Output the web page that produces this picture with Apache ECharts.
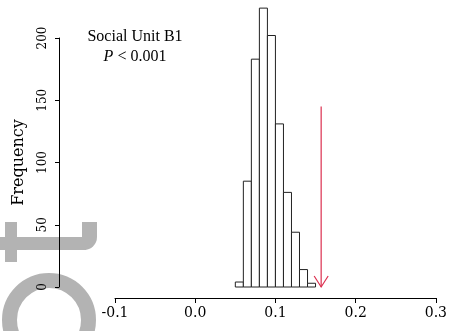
<!DOCTYPE html>
<html>
<head>
<meta charset="utf-8">
<script src="https://cdn.jsdelivr.net/npm/echarts@6/dist/echarts.min.js"></script>
<style>
html,body{margin:0;padding:0;background:#fff;}
#chart{width:450px;height:331px;}
</style>
</head>
<body>
<div id="chart"></div>
<script>
// Histogram bins (left edges, width 0.01) and frequencies
const binLeft = [0.05, 0.06, 0.07, 0.08, 0.09, 0.10, 0.11, 0.12, 0.13, 0.14];
const binWidth = 0.01;
const frequencies = [4, 85, 183, 224, 202, 131, 76, 44, 14, 3];
// Observed value arrow
const observedX = 0.157;
const arrowTopY = 145;
// Axis ticks
const xTicks = [-0.1, 0.0, 0.1, 0.2, 0.3];
const yTicks = [0, 50, 100, 150, 200];
const titleLine1 = 'Social Unit B1';
const titleLine2 = '{i|P} < 0.001';

const serif = 'Liberation Serif';
const wideSerif = 'DejaVu Serif';
const grey = '#b3b3b3';
const chart = echarts.init(document.getElementById('chart'), null, {renderer: 'canvas'});

const barData = binLeft.map((l, i) => [l, l + binWidth, frequencies[i]]);

chart.setOption({
  animation: false,
  backgroundColor: '#fff',
  grid: {left: 115, right: 12, top: 38, bottom: 44},
  xAxis: {
    type: 'value', min: xTicks[0], max: xTicks[xTicks.length - 1], interval: 0.1,
    offset: 11,
    axisLine: {show: true, onZero: false, lineStyle: {color: '#000', width: 1}},
    axisTick: {show: true, length: 5, lineStyle: {color: '#000'}},
    axisLabel: {color: '#000', fontFamily: wideSerif, fontSize: 14, margin: 8,
      formatter: v => v.toFixed(1)},
    splitLine: {show: false}
  },
  yAxis: {
    type: 'value', min: yTicks[0], max: yTicks[yTicks.length - 1], interval: 50,
    offset: 56,
    name: 'Frequency', nameLocation: 'middle', nameGap: 32, nameRotate: 90,
    nameTextStyle: {color: '#000', fontFamily: wideSerif, fontSize: 16},
    axisLine: {show: true, onZero: false, lineStyle: {color: '#000', width: 1}},
    axisTick: {show: true, length: 4, lineStyle: {color: '#000'}},
    axisLabel: {color: '#000', fontFamily: wideSerif, fontSize: 12, rotate: 90, margin: 10},
    splitLine: {show: false}
  },
  graphic: [
    // faint watermark shapes at bottom-left
    {type: 'group', z: -10, children: [
      {type: 'circle', shape: {cx: 49, cy: 320, r: 39.5}, style: {fill: 'none', stroke: grey, lineWidth: 15}},
      {type: 'rect', shape: {x: 0, y: 237, width: 86, height: 13}, style: {fill: grey}},
      {type: 'rect', shape: {x: 5, y: 222, width: 12, height: 40}, style: {fill: grey}},
      {type: 'rect', shape: {x: 70, y: 222, width: 27, height: 28, r: [0, 0, 13, 0]}, style: {fill: grey}},
      {type: 'rect', shape: {x: 70, y: 222, width: 12, height: 15}, style: {fill: '#fff'}}
    ]},
    {type: 'text', z: 10, x: 135, y: 37, style: {text: titleLine1, fill: '#000', font: '16px "' + serif + '"', align: 'center', verticalAlign: 'middle'}},
    {type: 'text', z: 10, x: 135, y: 57, style: {text: titleLine2, fill: '#000', fontFamily: serif, fontSize: 16, align: 'center', verticalAlign: 'middle',
      rich: {i: {fontFamily: serif, fontSize: 16, fontStyle: 'italic', fill: '#000'}}}}
  ],
  series: [
    {
      type: 'custom',
      data: barData,
      clip: false,
      renderItem: function (params, api) {
        const p0 = api.coord([api.value(0), 0]);
        const p1 = api.coord([api.value(1), api.value(2)]);
        return {
          type: 'rect',
          shape: {x: p0[0], y: p1[1], width: p1[0] - p0[0], height: p0[1] - p1[1]},
          style: {fill: '#fff', stroke: '#222', lineWidth: 1}
        };
      }
    },
    {
      type: 'custom',
      data: [[observedX, arrowTopY, 0]],
      clip: false,
      renderItem: function (params, api) {
        const top = api.coord([api.value(0), api.value(1)]);
        const tip = api.coord([api.value(0), api.value(2)]);
        const style = {stroke: '#dc2f4f', lineWidth: 1.2, fill: 'none'};
        return {
          type: 'group',
          children: [
            {type: 'line', shape: {x1: top[0], y1: top[1], x2: tip[0], y2: tip[1]}, style: style},
            {type: 'polyline', shape: {points: [[tip[0] - 7, tip[1] - 11], [tip[0], tip[1]], [tip[0] + 7, tip[1] - 11]]}, style: style}
          ]
        };
      }
    }
  ]
});
</script>
</body>
</html>
